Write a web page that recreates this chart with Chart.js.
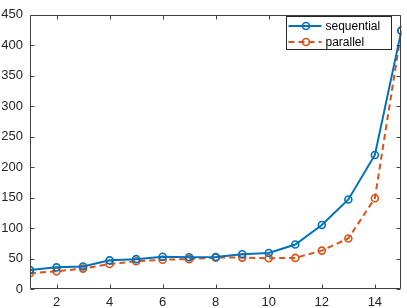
<!DOCTYPE html>
<html><head><meta charset="utf-8">
<script src="https://cdn.jsdelivr.net/npm/chart.js@4"></script>
<style>html,body{margin:0;padding:0;background:#fff}#wrap{width:407px;height:308px}</style>
</head><body><div id="wrap"><canvas id="c" width="407" height="308"></canvas></div>
<script>
const xValues = [1,2,3,4,5,6,7,8,9,10,11,12,13,14,15];
const sequential = [31,35.5,37,47,49,53,52,52.5,57,59,73,105,147,220,424];
const parallel = [26,29,33.5,41,45.5,48,49,51.5,51.5,50.5,51,63,83,149,424];
const xTicks = [2,4,6,8,10,12,14];
const yTicks = [0,50,100,150,200,250,300,350,400,450];
const seriesNames = ['sequential','parallel'];

const BLUE = '#0072BD', ORANGE = '#D95319', AX = '#404040';
const FAM = '"Liberation Sans", Arial, Helvetica, sans-serif';

const toPts = arr => arr.map((v,i)=>({x:xValues[i], y:v}));

const boxPlugin = {
  id:'box',
  afterDraw(chart){
    const {ctx, chartArea:a, scales:{x,y}} = chart;
    ctx.save();
    ctx.strokeStyle = AX; ctx.lineWidth = 1;
    const L=Math.round(a.left)+0.5, R=Math.round(a.right)-0.5, T=Math.round(a.top)+0.5, B=Math.round(a.bottom)-0.5;
    ctx.beginPath();
    ctx.rect(L,T,R-L,B-T);
    const tl=4;
    xTicks.forEach(v=>{const px=Math.round(x.getPixelForValue(v))+0.5;
      ctx.moveTo(px,B);ctx.lineTo(px,B-tl);ctx.moveTo(px,T);ctx.lineTo(px,T+tl);});
    yTicks.forEach(v=>{const py=Math.round(y.getPixelForValue(v))+0.5;
      ctx.moveTo(L,py);ctx.lineTo(L+tl,py);ctx.moveTo(R,py);ctx.lineTo(R-tl,py);});
    ctx.stroke();
    // legend
    const lx=286.5, ly=16.5, lw=105, lh=33;
    ctx.fillStyle='#fff'; ctx.fillRect(lx,ly,lw,lh);
    ctx.strokeStyle='#262626'; ctx.lineWidth=1; ctx.strokeRect(lx,ly,lw,lh);
    chart.data.datasets.forEach((ds,i)=>{
      const cy = ly + 9.5 + i*16;
      ctx.strokeStyle=ds.borderColor; ctx.lineWidth=ds.borderWidth;
      ctx.setLineDash(ds.borderDash||[]);
      ctx.beginPath(); ctx.moveTo(lx+2,cy); ctx.lineTo(lx+35,cy); ctx.stroke();
      ctx.setLineDash([]);
      ctx.lineWidth=ds.pointBorderWidth;
      ctx.beginPath(); ctx.arc(lx+19.5,cy,ds.pointRadius,0,Math.PI*2); ctx.stroke();
      ctx.fillStyle='#000'; ctx.font='12px '+FAM; ctx.textBaseline='middle'; ctx.textAlign='left';
      ctx.fillText(ds.label, lx+39, cy+0.5);
    });
    ctx.restore();
  }
};

new Chart(document.getElementById('c'), {
  type:'line',
  data:{datasets:[
    {label:seriesNames[0], data:toPts(sequential), borderColor:BLUE, borderWidth:2,
     pointRadius:3.5, pointBorderWidth:1.6, pointBackgroundColor:'rgba(0,0,0,0)', pointBorderColor:BLUE, tension:0},
    {label:seriesNames[1], data:toPts(parallel), borderColor:ORANGE, borderWidth:2, borderDash:[6,4],
     pointRadius:3.5, pointBorderWidth:1.6, pointBackgroundColor:'rgba(0,0,0,0)', pointBorderColor:ORANGE, tension:0}
  ]},
  options:{
    responsive:false, animation:false, devicePixelRatio:1,
    layout:{padding:{top:6,right:4,left:0,bottom:0}},
    plugins:{legend:{display:false}, tooltip:{enabled:false}},
    scales:{
      x:{type:'linear', min:1, max:15,
         afterBuildTicks:s=>{s.ticks=xTicks.map(v=>({value:v}));},
         afterFit:s=>{s.height=19;},
         grid:{display:false, drawTicks:false}, border:{display:false},
         ticks:{color:'#262626', font:{family:FAM, size:13}, padding:6, maxRotation:0}},
      y:{type:'linear', min:0, max:450,
         afterBuildTicks:s=>{s.ticks=yTicks.map(v=>({value:v}));},
         afterFit:s=>{s.width=30;},
         grid:{display:false, drawTicks:false}, border:{display:false},
         ticks:{color:'#262626', font:{family:FAM, size:13}, padding:7}}
    }
  },
  plugins:[boxPlugin]
});
</script></body></html>
